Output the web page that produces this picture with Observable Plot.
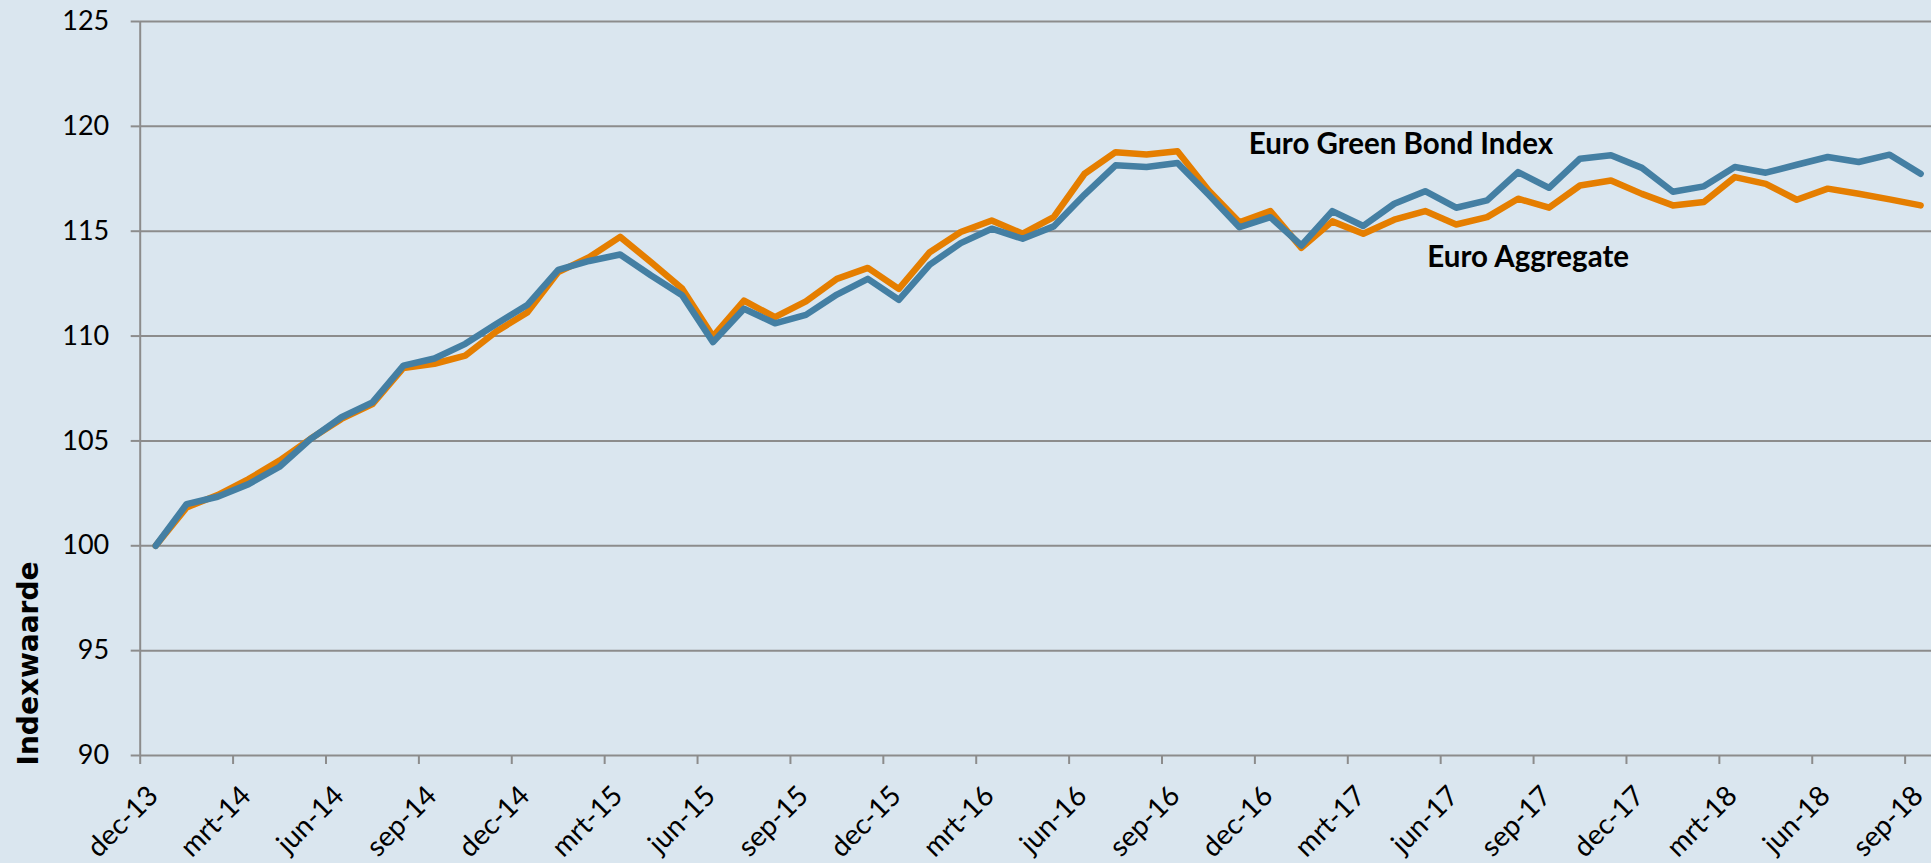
<!DOCTYPE html>
<html>
<head>
<meta charset="utf-8">
<script src="https://cdn.jsdelivr.net/npm/d3@7"></script>
<script src="https://cdn.jsdelivr.net/npm/@observablehq/plot@0.6"></script>
<style>
  html, body { margin: 0; padding: 0; background: #DAE6EF; overflow: hidden; }
</style>
</head>
<body>
<div id="chart"></div>
<script>
const months = [
  "dec-13",
  "jan-14","feb-14","mrt-14","apr-14","mei-14","jun-14","jul-14","aug-14","sep-14","okt-14","nov-14","dec-14",
  "jan-15","feb-15","mrt-15","apr-15","mei-15","jun-15","jul-15","aug-15","sep-15","okt-15","nov-15","dec-15",
  "jan-16","feb-16","mrt-16","apr-16","mei-16","jun-16","jul-16","aug-16","sep-16","okt-16","nov-16","dec-16",
  "jan-17","feb-17","mrt-17","apr-17","mei-17","jun-17","jul-17","aug-17","sep-17","okt-17","nov-17","dec-17",
  "jan-18","feb-18","mrt-18","apr-18","mei-18","jun-18","jul-18","aug-18","sep-18"
];

const greenBond = [
  100.00,
  101.99, 102.34, 102.94, 103.77, 105.09, 106.13, 106.84, 108.59, 108.93, 109.63, 110.58, 111.48,
  113.16, 113.58, 113.89, 112.89, 111.95, 109.71, 111.30, 110.61, 111.01, 111.98, 112.73, 111.73,
  113.41, 114.43, 115.12, 114.64, 115.23, 116.75, 118.14, 118.06, 118.25, 116.75, 115.19, 115.67,
  114.32, 115.96, 115.25, 116.31, 116.91, 116.12, 116.47, 117.82, 117.07, 118.46, 118.62, 118.02,
  116.88, 117.14, 118.06, 117.79, 118.17, 118.54, 118.30, 118.65, 117.74
];

const aggregate = [
  100.00,
  101.83, 102.42, 103.18, 104.06, 105.10, 106.05, 106.76, 108.48, 108.68, 109.07, 110.22, 111.12,
  113.05, 113.76, 114.73, 113.52, 112.27, 109.98, 111.69, 110.90, 111.65, 112.73, 113.25, 112.25,
  114.00, 114.96, 115.51, 114.88, 115.67, 117.74, 118.77, 118.66, 118.81, 116.95, 115.43, 115.96,
  114.21, 115.47, 114.88, 115.55, 115.96, 115.32, 115.67, 116.55, 116.12, 117.18, 117.42, 116.78,
  116.23, 116.39, 117.58, 117.26, 116.50, 117.03, 116.79, 116.52, 116.23
];

const tickLabels = [
  "dec-13","mrt-14","jun-14","sep-14","dec-14","mrt-15","jun-15","sep-15","dec-15","mrt-16",
  "jun-16","sep-16","dec-16","mrt-17","jun-17","sep-17","dec-17","mrt-18","jun-18","sep-18"
];

const yTicks = [90, 95, 100, 105, 110, 115, 120, 125];
const seriesNames = ["Euro Green Bond Index", "Euro Aggregate"];
const yTitle = "Indexwaarde";

const table = months.map((m, i) => ({i, month: m, green: greenBond[i], agg: aggregate[i]}));
const tickIndex = tickLabels.map(l => months.indexOf(l));
const tickBounds = tickIndex.map(i => i - 0.5);

const GRID = "#8C8C8C";
const BLUE = "#447FA3";
const ORANGE = "#E57E00";

const chart = Plot.plot({
  width: 1931,
  height: 863,
  marginLeft: 139.7,
  marginRight: 0,
  marginTop: 21,
  marginBottom: 108,
  style: {background: "#DAE6EF", fontFamily: "Lato, sans-serif", fontSize: "26px", color: "black"},
  x: {type: "linear", domain: [-0.5, months.length - 0.5], range: [139.7, 1935.6]},
  y: {domain: [90, 125]},
  marks: [
    Plot.gridY(yTicks, {stroke: GRID, strokeOpacity: 1, strokeWidth: 2}),
    Plot.ruleX([-0.5], {stroke: GRID, strokeWidth: 2}),
    Plot.axisY(yTicks, {tickSize: 9, tickPadding: 22, stroke: GRID, strokeWidth: 2, fill: "black", fontSize: 27, label: null}),
    Plot.axisX(tickBounds, {tickSize: 9, stroke: GRID, strokeWidth: 2, tickFormat: () => "", label: null}),
    Plot.text(tickLabels, {
      x: (d, k) => tickIndex[k], frameAnchor: "bottom", text: d => d,
      rotate: -45, textAnchor: "end", lineAnchor: "bottom", dx: 4, dy: 42,
      fontSize: 28, fill: "black"
    }),
    Plot.text([yTitle], {
      frameAnchor: "bottom-left", text: d => d, rotate: -90, textAnchor: "start", lineAnchor: "middle",
      dx: -110.7, dy: 10, fontFamily: "DejaVu Sans", fontWeight: "bold", fontSize: 28, fill: "black"
    }),
    Plot.lineY(table, {x: "i", y: "agg", stroke: ORANGE, strokeWidth: 6.5, strokeLinejoin: "round", strokeLinecap: "round"}),
    Plot.lineY(table, {x: "i", y: "green", stroke: BLUE, strokeWidth: 6.5, strokeLinejoin: "round", strokeLinecap: "round"}),
    Plot.text([seriesNames[0]], {x: [35.3], y: [118.7], text: d => d, textAnchor: "start", lineAnchor: "bottom",
      fontWeight: "bold", fontSize: 29.5, fill: "black"}),
    Plot.text([seriesNames[1]], {x: [41.07], y: [113.28], text: d => d, textAnchor: "start", lineAnchor: "bottom",
      fontWeight: "bold", fontSize: 29.5, fill: "black"})
  ]
});
document.getElementById("chart").appendChild(chart);
</script>
</body>
</html>
